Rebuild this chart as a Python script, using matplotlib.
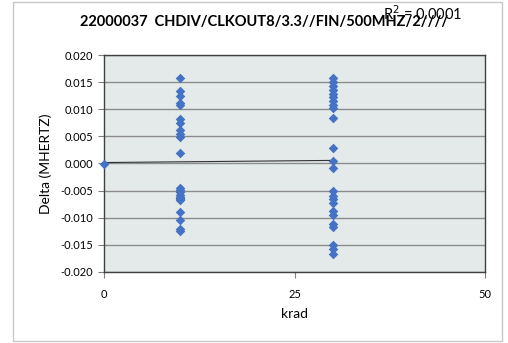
import numpy as np
import matplotlib
matplotlib.use("Agg")
from matplotlib import pyplot as plt
from matplotlib.patches import Rectangle

plt.rcParams['font.family'] = ['Lato', 'DejaVu Sans']

# krad dose and measured delta (MHz)
x0 = [0]
y0 = [0.0]
y10 = [0.0158, 0.0133, 0.0125, 0.0112, 0.0107, 0.0082, 0.0074, 0.0061, 0.0055,
       0.0049, 0.0019, -0.0046, -0.0048, -0.0052, -0.0058, -0.0061,
       -0.0064, -0.0066, -0.0068, -0.0090, -0.0104, -0.0120, -0.0124]
x10 = [10] * len(y10)
y30 = [0.0157, 0.0150, 0.0143, 0.0136, 0.0129, 0.0122, 0.0115, 0.0108, 0.0102,
       0.0083, 0.0029, 0.0005, -0.0008, -0.0051, -0.0059, -0.0066, -0.0073,
       -0.0088, -0.0095, -0.0112, -0.0117, -0.0150, -0.0158, -0.0166]
x30 = [30] * len(y30)

xs = x0 + x10 + x30
ys = y0 + y10 + y30

title = "22000037  CHDIV/CLKOUT8/3.3//FIN/500MHZ/2////"
r2_text = "R$^2$ = 0.0001"

fig = plt.figure(figsize=(5.08, 3.43), dpi=100)
fig.patches.append(Rectangle((13/508, 2/343), 489/508, 339/343, transform=fig.transFigure,
                             fill=False, edgecolor="#c8c8c8", linewidth=1))

ax = fig.add_axes([104/508, 71/343, 381/508, 217/343])
ax.set_facecolor("#e4eaea")

# linear trendline
k, b = np.polyfit(xs, ys, 1)
tx = np.array([0, 30])
ax.plot(tx, k*tx + b, color="#333333", linewidth=0.8, zorder=3)

ax.scatter(xs, ys, marker="D", s=24, color="#4472c4", zorder=4, linewidths=0, clip_on=False)

ax.set_xlim(0, 50)
ax.set_ylim(-0.020, 0.020)
ax.set_xticks([0, 25, 50])
ax.set_yticks(np.arange(-0.020, 0.0201, 0.005))
ax.yaxis.set_major_formatter(matplotlib.ticker.FormatStrFormatter('%.3f'))
ax.grid(axis='y', color="#8c8c8c", linewidth=1)
ax.set_axisbelow(True)
for s in ax.spines.values():
    s.set_color("#404040")
    s.set_linewidth(1)
ax.tick_params(labelsize=8, length=4, color="#808080", pad=4)
ax.tick_params(axis='x', pad=8)

ax.set_xlabel("krad", fontsize=10, labelpad=6)
ax.set_ylabel("Delta (MHERTZ)", fontsize=10, labelpad=6)

fig.text(264/508, 1-22/343, title, ha="center", va="center", fontsize=10.5, fontweight="bold")
fig.text(383/508, 1-14/343, r2_text, ha="left", va="center", fontsize=10.5)

fig.savefig("out.png", dpi=100)
